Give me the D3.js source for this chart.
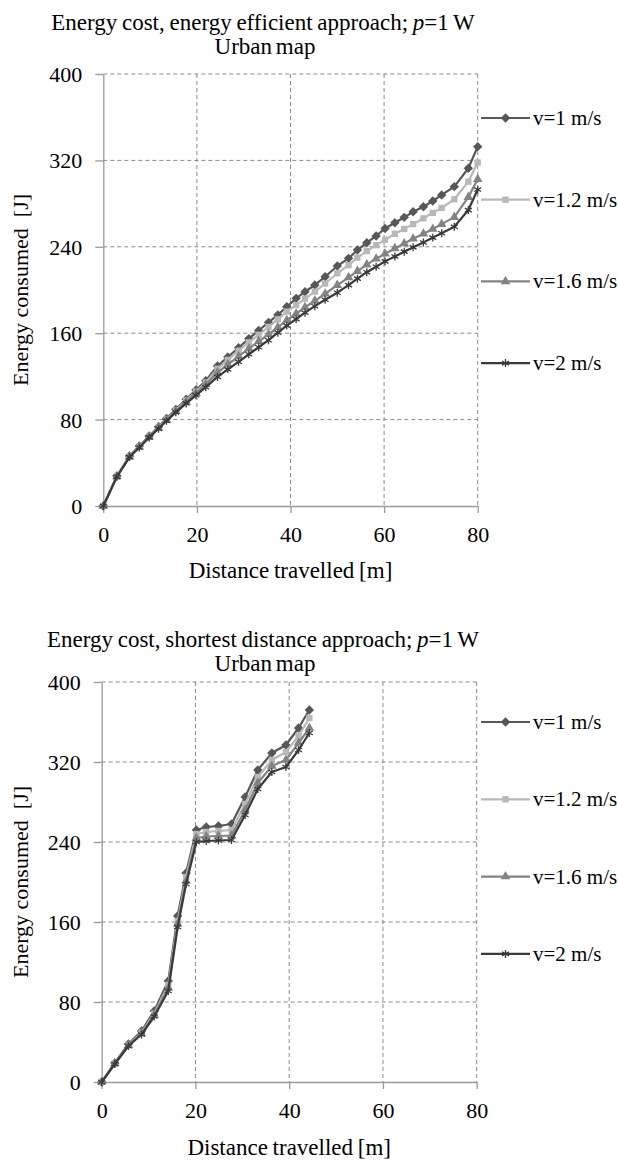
<!DOCTYPE html>
<html>
<head>
<meta charset="utf-8">
<script src="https://cdn.jsdelivr.net/npm/d3@7"></script>
<style>
  body { margin: 0; background: #fff; }
  svg text { font-family: "Liberation Serif", "Times New Roman", serif; fill: #000; }
</style>
</head>
<body>
<svg id="chart" width="618" height="1165"></svg>
<script>
// Legend names and axis ticks
const seriesNames = ['v=1 m/s', 'v=1.2 m/s', 'v=1.6 m/s', 'v=2 m/s'];
const xTicks = [0, 20, 40, 60, 80];
const yTicks = [0, 80, 160, 240, 320, 400];

// Energy efficient approach: distance [m] and energy [J] per speed
const effDist = [0, 2.9, 5.6, 7.7, 9.8, 11.8, 13.5, 15.5, 17.7, 19.8, 21.9, 24.4, 26.6, 28.9, 31.1, 33.2, 35.3, 37.3, 39.2,
  41.2, 43.1, 45.2, 47.4, 50, 52.4, 54.3, 56.3, 58.3, 60.2, 62.3, 64.3, 66.2, 68.4, 70.4, 72.3, 75, 78, 80];
const effV1 = [0, 27.8, 46.3, 55.5, 64.8, 73.4, 81, 89.5, 98.8, 107.4, 116, 129.6, 138, 146.5, 155, 162.5, 170, 177, 184.5,
  192.3, 198.4, 204.6, 212.3, 222.2, 229.3, 237, 243.8, 250, 257, 262.3, 267.3, 272.5, 277.1, 282.4, 288, 295.7, 312.7, 332.7];
const effV12 = [0, 27.5, 46, 55, 64.3, 72.8, 80.3, 88.6, 97.7, 106, 114.4, 127, 135.3, 143.8, 151.5, 158.5, 165.8, 172.8, 180,
  186, 192, 198.5, 206, 215.5, 223, 230, 236, 241.5, 246.5, 252, 256.5, 261, 266.4, 271.4, 276, 284, 300.3, 318];
const effV16 = [0, 27.3, 45.7, 54.7, 64, 72.3, 79.7, 87.8, 96.5, 104.5, 112.5, 123.5, 131, 138.5, 145.8, 152.5, 159, 165.5, 172,
  178, 184, 190, 196.5, 204.5, 211.5, 217.5, 223.5, 229, 233.5, 238.5, 243, 247.5, 252, 256.5, 261, 267.5, 286, 302.5];
const effV2 = [0, 27, 45.3, 54.2, 63.5, 71.6, 78.8, 86.7, 95, 102.5, 110, 119.5, 126.5, 133.5, 140.5, 147, 153.5, 160.5, 167,
  173, 179, 185, 191, 197.5, 204.5, 210.5, 216.5, 221.5, 226.5, 231, 235.5, 239.5, 244, 248.5, 252.5, 258.5, 274, 293];

// Shortest distance approach
const shortDist = [0, 2.8, 5.7, 8.5, 11.2, 14.2, 16.2, 18, 20.2, 22.3, 24.9, 27.7, 30.6, 33.3, 36.3, 39.3, 42, 44.3];
const shortV1 = [0, 19, 38, 51, 71, 101, 166, 209, 252, 255, 256, 258, 285, 312, 329, 337, 354, 372];
const shortV12 = [0, 18.5, 37, 49.5, 68.5, 97, 161, 205, 248, 250, 251, 252, 278, 305, 322, 330, 346, 364];
const shortV16 = [0, 18.5, 36.5, 48.5, 67, 94, 158, 201, 244, 245.5, 246, 246.5, 272, 299, 316, 322, 339, 354];
const shortV2 = [0, 18, 36, 47.5, 65.5, 91, 155, 198, 240, 241, 241.5, 242, 267, 293, 310, 315, 332, 349];

const colors = ['#575757', '#b8b8b8', '#838383', '#3a3a3a'];

const svg = d3.select('#chart');

// marker for series i at (cx, cy)
function addMarker(g, i, cx, cy) {
  if (i === 0) {
    g.append('path').attr('d', d3.symbol(d3.symbolSquare, 44)())
      .attr('transform', `translate(${cx},${cy}) rotate(45)`).attr('fill', colors[0]);
  } else if (i === 1) {
    g.append('path').attr('d', d3.symbol(d3.symbolSquare, 40)())
      .attr('transform', `translate(${cx},${cy})`).attr('fill', colors[1]);
  } else if (i === 2) {
    g.append('path').attr('d', d3.symbol(d3.symbolTriangle, 40)())
      .attr('transform', `translate(${cx},${cy})`).attr('fill', colors[2]);
  } else {
    g.append('path').attr('d', d3.symbol(d3.symbolAsterisk, 44)())
      .attr('transform', `translate(${cx},${cy})`).attr('fill', 'none')
      .attr('stroke', colors[3]).attr('stroke-width', 1.3);
  }
}

function drawChart(cfg, dist, seriesValues) {
  const g = svg.append('g');
  const x = d3.scaleLinear().domain([0, 80]).range([cfg.left, cfg.right]);
  const y = d3.scaleLinear().domain([0, 400]).range([cfg.bottom, cfg.top]);

  // titles
  const t1 = g.append('text').attr('x', cfg.titleX).attr('y', cfg.titleY)
    .attr('text-anchor', 'middle').attr('font-size', 23).attr('word-spacing', -1);
  t1.append('tspan').text(cfg.title + '; ');
  t1.append('tspan').attr('font-style', 'italic').text('p');
  t1.append('tspan').text('=1 W');
  g.append('text').attr('x', cfg.titleX + 2).attr('y', cfg.titleY + 24)
    .attr('text-anchor', 'middle').attr('font-size', 23).attr('word-spacing', -2).text('Urban map');

  // dashed grid
  g.append('g').selectAll('line')
    .data(yTicks.slice(1))
    .join('line')
    .attr('x1', cfg.left).attr('x2', cfg.right)
    .attr('y1', d => y(d)).attr('y2', d => y(d))
    .attr('stroke', '#8a8a8a').attr('stroke-dasharray', '4,3');
  g.append('g').selectAll('line')
    .data(xTicks.slice(1))
    .join('line')
    .attr('x1', d => x(d)).attr('x2', d => x(d))
    .attr('y1', cfg.top).attr('y2', cfg.bottom)
    .attr('stroke', '#8a8a8a').attr('stroke-dasharray', '4,3');

  // axes
  const yAxis = g.append('g')
    .attr('transform', `translate(${cfg.left},0)`)
    .call(d3.axisLeft(y).tickValues(yTicks).tickSize(8).tickSizeOuter(0).tickPadding(13));
  const xAxis = g.append('g')
    .attr('transform', `translate(0,${cfg.bottom})`)
    .call(d3.axisBottom(x).tickValues(xTicks).tickSize(7).tickSizeOuter(0));
  [yAxis, xAxis].forEach(a => {
    a.attr('font-family', '"Liberation Serif", serif');
    a.select('.domain').attr('stroke', '#9a9a9a').attr('stroke-width', 1.3);
    a.selectAll('.tick line').attr('stroke', '#9a9a9a').attr('stroke-width', 1.3);
    a.selectAll('text').attr('font-size', 22).attr('fill', '#000');
  });
  yAxis.selectAll('text').attr('dy', '0.34em');
  xAxis.selectAll('text').attr('y', 36).attr('dy', null);

  // axis titles
  g.append('text')
    .attr('transform', `translate(28,${(cfg.top + cfg.bottom) / 2}) rotate(-90)`)
    .attr('text-anchor', 'middle').attr('font-size', 22)
    .style('white-space', 'pre')
    .text('Energy consumed  [J]');
  g.append('text')
    .attr('x', (cfg.left + cfg.right) / 2).attr('y', cfg.xLabelY)
    .attr('text-anchor', 'middle').attr('font-size', 23).attr('word-spacing', -1)
    .text('Distance travelled [m]');

  // series
  const line = d3.line().x(d => x(d[0])).y(d => y(d[1]));
  seriesValues.forEach((vals, i) => {
    const pts = dist.map((d, j) => [d, vals[j]]);
    g.append('path').datum(pts)
      .attr('d', line)
      .attr('fill', 'none')
      .attr('stroke', colors[i])
      .attr('stroke-width', 2.2)
      .attr('stroke-linejoin', 'round');
    const mg = g.append('g');
    pts.forEach(p => addMarker(mg, i, x(p[0]), y(p[1])));
  });

  // legend
  seriesNames.forEach((name, i) => {
    const ly = cfg.legendY + i * cfg.legendStep;
    g.append('line').attr('x1', 481).attr('x2', 530).attr('y1', ly).attr('y2', ly)
      .attr('stroke', colors[i]).attr('stroke-width', 2.2);
    addMarker(g, i, 505.5, ly);
    g.append('text').attr('x', 533).attr('y', ly + 7).attr('font-size', 21).text(name);
  });
}

drawChart({
  left: 103.3, right: 477.7, bottom: 506, top: 74,
  title: 'Energy cost, energy efficient approach', titleX: 263, titleY: 30,
  xLabelY: 578, legendY: 118, legendStep: 81.7
}, effDist, [effV1, effV12, effV16, effV2]);

drawChart({
  left: 101.7, right: 476.7, bottom: 1082, top: 682,
  title: 'Energy cost, shortest distance approach', titleX: 263, titleY: 647,
  xLabelY: 1155, legendY: 722, legendStep: 77.3
}, shortDist, [shortV1, shortV12, shortV16, shortV2]);
</script>
</body>
</html>
